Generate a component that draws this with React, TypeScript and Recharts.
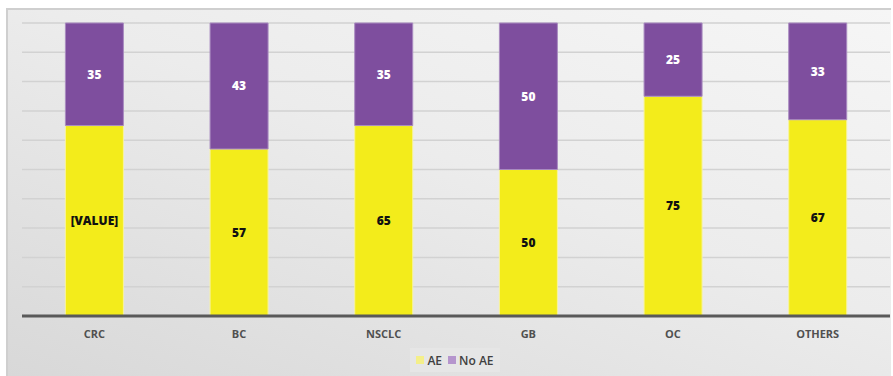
import React from "react";
import { BarChart, Bar, XAxis, YAxis, CartesianGrid, LabelList } from "recharts";

const categories = ["CRC", "BC", "NSCLC", "GB", "OC", "OTHERS"];
const aeValues = [65, 57, 65, 50, 75, 67];
const noAeValues = [35, 43, 35, 50, 25, 33];
const aeLabels = ["[VALUE]", "57", "65", "50", "75", "67"];
const yTicks = [0, 10, 20, 30, 40, 50, 60, 70, 80, 90, 100];

const data = categories.map((name, i) => ({
  name,
  ae: aeValues[i],
  noAe: noAeValues[i],
  aeLabel: aeLabels[i],
}));

const FONT = "'Open Sans', 'Noto Sans', sans-serif";

export default function App() {
  return (
    <div style={{ position: "absolute", left: 0, top: 0, width: 893, height: 376, background: "#fff", fontFamily: FONT }}>
      <div
        style={{
          position: "absolute",
          left: 6,
          top: 8,
          width: 885,
          height: 368,
          boxSizing: "border-box",
          borderTop: "2px solid #cfcfcf",
          borderLeft: "2px solid #cfcfcf",
          background: "linear-gradient(200deg, #f6f6f6 0%, #ececec 45%, #d8d8d8 100%)",
        }}
      />
      <div style={{ position: "absolute", left: 0, top: 0 }}>
        <BarChart
          width={893}
          height={376}
          data={data}
          margin={{ top: 23, right: 3, left: 22, bottom: 30 }}
          barCategoryGap="30%"
        >
          <CartesianGrid vertical={false} stroke="#d2d2d2" strokeWidth={1.5} />
          <YAxis hide domain={[0, 100]} ticks={yTicks} />
          <XAxis
            dataKey="name"
            height={30}
            tickLine={false}
            axisLine={{ stroke: "#595959", strokeWidth: 3 }}
            tick={{ fill: "#505050", fontSize: 11, fontWeight: 700, fontFamily: FONT }}
            tickMargin={8}
          />
          <Bar dataKey="ae" stackId="a" fill="#f3ec1b" stroke="#f7f3a0" strokeWidth={1} isAnimationActive={false}>
            <LabelList
              dataKey="aeLabel"
              position="center"
              fill="#111"
              fontSize={12}
              fontWeight={800}
              fontFamily={FONT}
            />
          </Bar>
          <Bar dataKey="noAe" stackId="a" fill="#7e4e9e" stroke="#a98bc0" strokeWidth={1} isAnimationActive={false}>
            <LabelList
              dataKey="noAe"
              position="center"
              fill="#fff"
              fontSize={12}
              fontWeight={800}
              fontFamily={FONT}
            />
          </Bar>
        </BarChart>
      </div>
      <div
        style={{
          position: "absolute",
          left: 410,
          top: 348,
          width: 90,
          height: 24,
          background: "#e6e6e6",
          display: "flex",
          alignItems: "center",
          justifyContent: "center",
          fontSize: 12,
          fontWeight: 600,
          color: "#404040",
        }}
      >
        <span style={{ width: 8, height: 8, background: "#f4ef8a", display: "inline-block", marginRight: 3 }} />
        <span style={{ marginRight: 6 }}>AE</span>
        <span style={{ width: 8, height: 8, background: "#b595cd", display: "inline-block", marginRight: 3 }} />
        <span>No AE</span>
      </div>
    </div>
  );
}
